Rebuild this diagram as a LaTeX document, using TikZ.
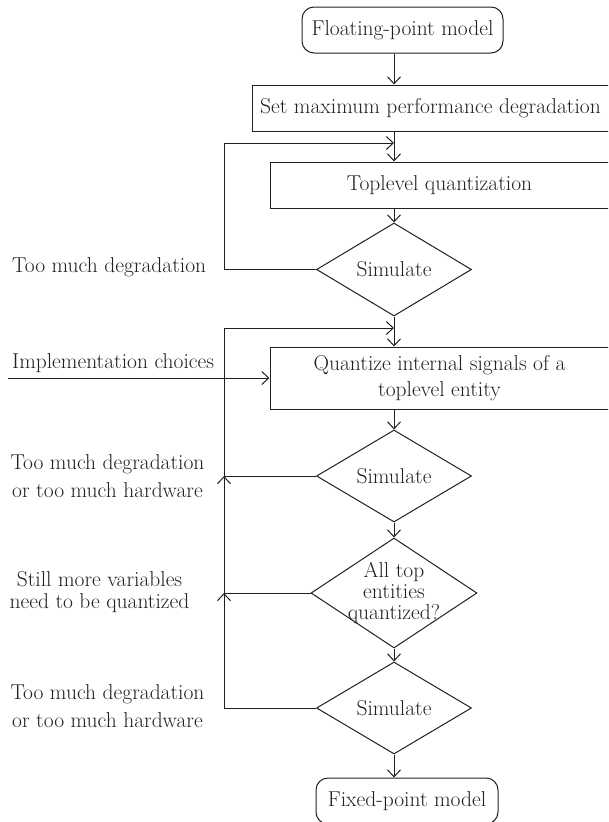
\documentclass[tikz,border=0pt]{standalone}
\usetikzlibrary{shapes.geometric,arrows.meta}
\definecolor{ink}{RGB}{35,31,32}
\tikzset{
  base/.style={font=\fontsize{21.5}{24}\selectfont, text=ink, draw=ink, line width=1pt},
  proc/.style={base, rectangle, inner sep=0pt, align=center},
  term/.style={base, rectangle, rounded corners=12pt, inner sep=0pt},
  dec/.style={base, diamond, inner sep=0pt, aspect=1.67},
  lbl/.style={font=\fontsize{21.5}{24}\selectfont, text=ink, inner sep=0pt, align=center},
  conn/.style={draw=ink, line width=1pt},
  arr/.style={conn, -{Straight Barb[length=7pt,width=13pt]}},
}
\begin{document}
\begin{tikzpicture}[x=1pt,y=-1pt]
\useasboundingbox (0,0) rectangle (608,822);
\begin{scope}
\clip (0,0) rectangle (608,822);
% main column
\node[term, minimum width=201pt, minimum height=46pt] (floating) at (402.5,30) {Floating-point model};
\node[proc, minimum width=357pt, minimum height=46pt] (setmax) at (430.5,108) {Set maximum performance degradation};
\node[proc, minimum width=339pt, minimum height=46pt] (toplevel) at (439.5,185) {Toplevel quantization};
\node[dec, minimum width=155pt, minimum height=93pt] (sim1) at (394,269.5) {Simulate};
\node[proc, minimum width=339pt, minimum height=62pt, font=\fontsize{21.5}{26}\selectfont] (quant) at (439.5,378) {Quantize internal signals of a\\toplevel entity};
\node[dec, minimum width=155pt, minimum height=92pt] (sim2) at (394,476) {Simulate};
\node[dec, minimum width=166pt, minimum height=110pt,
      label={[lbl, font=\fontsize{21.5}{21}\selectfont]center:All top\\entities\\quantized?}] (alltop) at (394,593) {};
\node[dec, minimum width=155pt, minimum height=92pt] (sim3) at (394,708) {Simulate};
\node[term, minimum width=182pt, minimum height=46pt] (fixed) at (407,801) {Fixed-point model};

% left labels
\node[lbl, anchor=base west] (t1) at (12,272) {Too much degradation};
\node[lbl, anchor=base west] (t2) at (12,368) {Implementation choices};
\node[lbl, font=\fontsize{21.5}{27.5}\selectfont] (t3) at (107.5,476) {Too much degradation\\or too much hardware};
\node[lbl, font=\fontsize{21.5}{22}\selectfont] (t4) at (99.5,592.5) {Still more variables\\need to be quantized};
\node[lbl, font=\fontsize{21.5}{28}\selectfont] (t5) at (107.5,706.5) {Too much degradation\\or too much hardware};

% coordinates
\coordinate (j1) at (394,143);
\coordinate (c1) at (224,143);
\coordinate (j2) at (394,328);
\coordinate (c2) at (224,328);
\coordinate (impl) at (8,378);

% connectors
\draw[arr] (floating.south -| sim1.center) -- (setmax.north -| sim1.center);
\draw[arr] (setmax.south -| sim1.center) -- (toplevel.north -| sim1.center);
\draw[arr] (sim1.west) -| (c1) -- (j1);
\draw[arr] (toplevel.south -| sim1.center) -- (sim1.north);
\draw[arr] (sim1.south) -- (quant.north -| sim1.center);
\draw[arr] (c2) -- (j2);
\draw[arr] (impl) -- (quant.west);
\draw[arr] (quant.south -| sim2.center) -- (sim2.north);
\draw[arr] (sim2.south) -- (alltop.north);
\draw[arr] (alltop.south) -- (sim3.north);
\draw[arr] (sim3.south) -- (fixed.north -| sim3.center);
\draw[conn] (sim2.west) -- (sim2.west -| c2);
\draw[conn] (alltop.west) -- (alltop.west -| c2);
\draw[arr] (sim3.west) -- (sim3.west -| c2) -- (alltop.west -| c2);
\draw[arr] (alltop.west -| c2) -- (sim2.west -| c2);
\draw[conn] (sim2.west -| c2) -- (c2);
\end{scope}
\end{tikzpicture}
\end{document}
